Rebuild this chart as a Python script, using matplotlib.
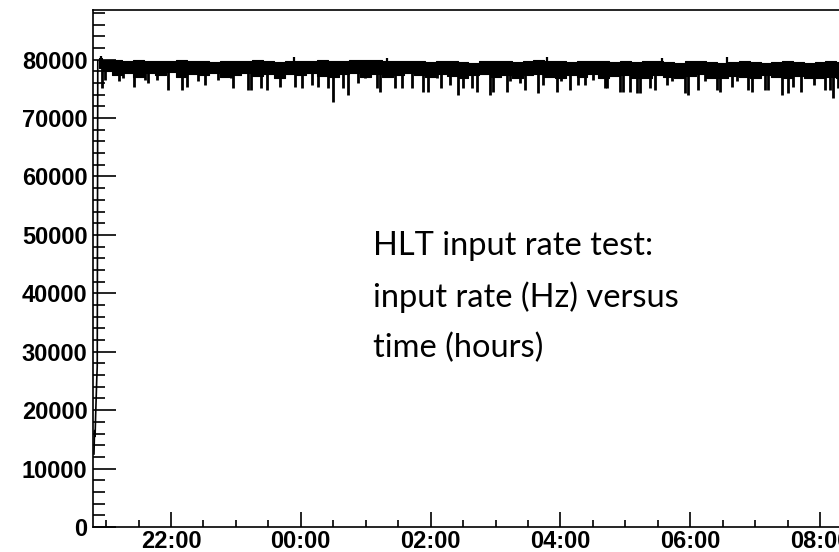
import matplotlib
matplotlib.use('Agg')
import matplotlib.pyplot as plt
import numpy as np
from matplotlib.ticker import MultipleLocator, FuncFormatter

# times are minutes after 20:00
start_min = [48.8, 49.3, 49.8, 50.3, 50.8, 51.3, 51.8, 52.3]
start_val = [12500, 16500, 15500, 19000, 22000, 25000, 27500, 79800]

band_min = [53] + list(range(60, 750, 10))
band_hi = [80200, 80000, 79900, 79800, 79900, 79700, 79800, 79700, 79900, 79800,
           79700, 79600, 79700, 79800, 79700, 80000, 79700, 79600, 79800, 79700,
           79800, 79900, 79800, 79700, 79900, 80000, 79900, 79800, 79700, 79800,
           79700, 79600, 79800, 79700, 79600, 79500, 79700, 79800, 79700, 79600,
           79700, 80000, 79800, 79700, 79600, 79700, 79800, 79700, 79600, 79700,
           79600, 79800, 79700, 79600, 79500, 79700, 79800, 79600, 79500, 79600,
           79700, 79600, 79500, 79600, 79700, 79600, 79500, 79600, 79700, 79600]
band_lo = [78500, 78100, 77400, 77800, 77100, 77700, 77300, 77900, 77000, 77500,
           77300, 77700, 77000, 77400, 77800, 77200, 77500, 76900, 77600, 77400,
           77800, 77200, 77000, 77500, 77800, 77100, 77600, 77000, 77300, 77800,
           77300, 77000, 77500, 77200, 76900, 77400, 77600, 77000, 77300, 76900,
           77300, 77600, 77000, 76900, 77400, 77100, 77600, 76900, 77200, 77400,
           76900, 76800, 77300, 77000, 76800, 77200, 77500, 76900, 76800, 77200,
           77000, 76800, 77300, 77000, 76800, 77200, 76900, 76800, 77000, 76900]

dip_min = [56, 59, 72, 76, 86, 96, 99, 107, 117, 130, 135, 145, 151, 163,
           175, 177, 191, 194, 203, 209, 221, 235, 241, 250, 256, 265, 270, 279,
           284, 293, 299, 310, 313, 322, 327, 334, 343, 353, 358, 366, 370, 378, 385, 390,
           398, 403, 415, 418, 431, 433, 443, 447, 459, 464, 477, 481, 489, 496, 503, 510,
           521, 523, 535, 538, 544, 551, 554, 563, 567, 579, 583, 595, 598, 607, 614, 625,
           628, 639, 643, 653, 657, 669, 672, 685, 690, 695, 702, 714, 725, 729, 732, 737]
dip_val = [75100, 76500, 76300, 76800, 75400, 76500, 76000, 76500, 74800, 74800, 75400, 76300, 75700, 76500,
           76800, 75100, 74800, 74800, 75100, 74800, 75400, 75400, 75100, 75700, 75400, 75100, 72800, 75100,
           74000, 76000, 76800, 75100, 74500, 77100, 75100, 75100, 75100, 74500, 74500, 76800, 75100, 75700, 74000, 75100,
           75100, 74500, 74000, 74500, 74500, 76300, 76000, 74800, 74300, 75700, 74500, 76300, 74800, 75700, 75700, 76500,
           75100, 75100, 74500, 74500, 74500, 74300, 74300, 75100, 74800, 75700, 76300, 74300, 74000, 74800, 76300, 74800,
           74500, 75400, 76300, 74800, 74500, 74800, 74800, 74000, 74300, 75400, 74500, 75700, 74800, 74800, 73500, 75100]

spike_min = [55, 234, 320, 468, 574, 634]
spike_val = [80600, 80500, 80300, 80500, 80300, 80400]

def hours(m):
    return 20.0 + np.asarray(m) / 60.0

fig = plt.figure(figsize=(8.39, 5.52), dpi=100)
ax = fig.add_axes([93/839, 25/552, 760/839, 517/552])

t_band = hours(band_min)
ax.fill_between(t_band, band_lo, band_hi, step='mid', color='black', lw=0.8)
base = np.interp(hours(dip_min), t_band, band_lo)
ax.vlines(hours(dip_min), dip_val, base + 300, color='black', lw=2.0)
sbase = np.interp(hours(spike_min), t_band, band_hi)
ax.vlines(hours(spike_min), sbase - 300, spike_val, color='black', lw=1.6)
ax.plot(hours(start_min), start_val, color='black', lw=1.2)

ax.set_xlim(20.798, 20.798 + 760/64.9)
ax.set_ylim(0, 88500)

ax.xaxis.set_major_locator(MultipleLocator(2))
ax.xaxis.set_minor_locator(MultipleLocator(0.5))
ax.yaxis.set_major_locator(MultipleLocator(10000))
ax.yaxis.set_minor_locator(MultipleLocator(2000))
ax.xaxis.set_major_formatter(FuncFormatter(lambda v, p: '%02d:00' % (int(round(v)) % 24)))
ax.yaxis.set_major_formatter(FuncFormatter(lambda v, p: '%d' % v))

ax.tick_params(axis='both', which='both', direction='in', top=False, right=False, width=1.2)
ax.tick_params(axis='y', which='major', length=16.5, pad=4)
ax.tick_params(axis='y', which='minor', length=8.6)
ax.tick_params(axis='x', which='major', length=10.8, pad=2.5)
ax.tick_params(axis='x', which='minor', length=5.2)
for lab in ax.get_xticklabels() + ax.get_yticklabels():
    lab.set_fontfamily('Liberation Sans')
    lab.set_fontweight('bold')
    lab.set_fontsize(17)
for sp in ax.spines.values():
    sp.set_linewidth(1.2)

fig.text(373/839, 1 - 231/552, 'HLT input rate test:\ninput rate (Hz) versus\ntime (hours)',
         family='Lato', fontsize=23.5, va='top', ha='left', linespacing=1.8)

plt.savefig('out.png', dpi=100)
